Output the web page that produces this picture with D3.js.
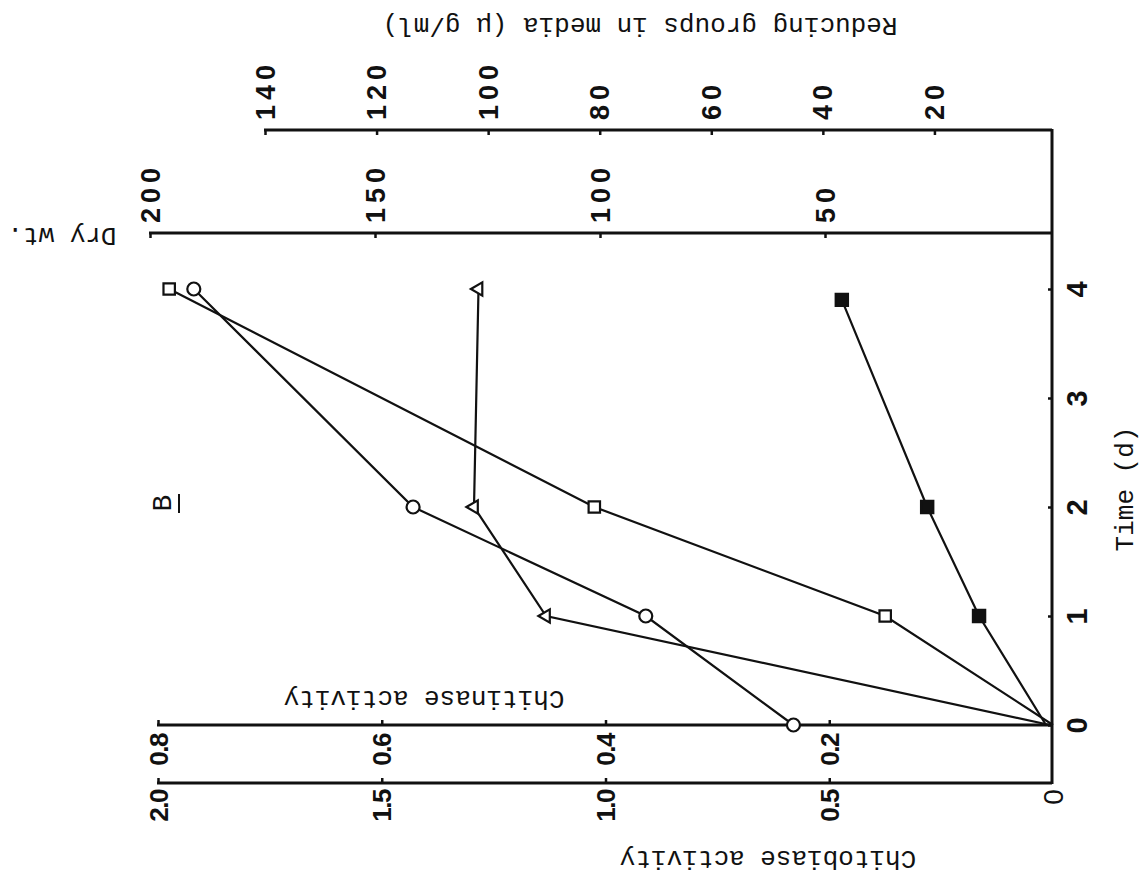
<!DOCTYPE html>
<html>
<head>
<meta charset="utf-8">
<script src="https://cdn.jsdelivr.net/npm/d3@7"></script>
<style>
body { margin: 0; background: #fff; }
svg { display: block; }
.title { font-family: "Liberation Mono", "DejaVu Sans Mono", monospace; font-size: 26px; fill: #111; }
</style>
</head>
<body>
<svg id="svg" width="1140" height="874"></svg>
<script>
"use strict";

// time in days
var days = [0, 1, 2, 3, 4];

// open circles - chitobiase activity
var chitobiaseTime = [0, 1, 2, 4];
var chitobiase = [0.58, 0.91, 1.43, 1.92];

// open squares - chitinase activity
var chitinaseTime = [0, 1, 2, 4];
var chitinase = [0, 0.15, 0.41, 0.79];

// open triangles - dry wt.
var dryTime = [0, 1, 2, 4];
var dryWt = [0, 112, 128, 127];

// filled squares - reducing groups in media
var reducingTime = [0, 1, 2, 3.9];
var reducing = [0, 12, 21.3, 36.6];

var chitobiaseTicks = [0.5, 1.0, 1.5, 2.0];
var chitinaseTicks = [0.2, 0.4, 0.6, 0.8];
var dryTicks = [50, 100, 150, 200];
var reducingTicks = [20, 40, 60, 80, 100, 120, 140];

var svg = d3.select("svg");

// the page is turned on its side: time runs up, values run left
var axisX = 1052;
var chitinaseY = 725;
var chitobiaseY = 783;
var dryY = 233;
var reducingY = 130;

var y = d3.scaleLinear().domain([0, 4]).range([725, 289]);
var xChitobiase = d3.scaleLinear().domain([0, 2]).range([1053, 158]);
var xChitinase = d3.scaleLinear().domain([0, 0.8]).range([1053, 158]);
var xDry = d3.scaleLinear().domain([0, 200]).range([1050, 150]);
var xReducing = d3.scaleLinear().domain([0, 140]).range([1046, 265]);

function hAxis(scale, ticks, yPos, fmt, below)
{
    var axis = (below ? d3.axisBottom(scale) : d3.axisTop(scale))
        .tickValues(ticks)
        .tickSizeInner(-5)
        .tickSizeOuter(0)
        .tickFormat(fmt);

    var g = svg.append("g")
        .attr("transform", "translate(0," + yPos + ")")
        .call(axis);
    g.select(".domain").remove();
    g.selectAll(".tick line")
        .attr("stroke", "#111")
        .attr("stroke-width", 2.5);

    // axis line runs from the last tick to the time axis
    g.append("line")
        .attr("x1", scale(ticks[ticks.length - 1]) - 1)
        .attr("x2", axisX)
        .attr("stroke", "#111")
        .attr("stroke-width", 3);
    return g;
}

function styleLabels(g, shift, anchor, size, spacing)
{
    g.selectAll(".tick text")
        .attr("x", 0).attr("y", 0).attr("dy", null)
        .attr("transform", "translate(0," + shift + ") rotate(-90)")
        .attr("text-anchor", anchor)
        .attr("dominant-baseline", "central")
        .style("font-family", "'Liberation Sans', Arial, sans-serif")
        .style("font-weight", "bold")
        .style("font-size", size + "px")
        .style("letter-spacing", spacing + "px")
        .attr("fill", "#111");
}

var gChitinase = hAxis(xChitinase, chitinaseTicks, chitinaseY, d3.format(".1f"), true);
styleLabels(gChitinase, 9, "end", 26, -1.5);

var gChitobiase = hAxis(xChitobiase, chitobiaseTicks, chitobiaseY, d3.format(".1f"), true);
styleLabels(gChitobiase, 7, "end", 26, -1.5);

var gDry = hAxis(xDry, dryTicks, dryY, d3.format("d"), false);
styleLabels(gDry, -10, "start", 27, 5);

var gReducing = hAxis(xReducing, reducingTicks, reducingY, d3.format("d"), false);
styleLabels(gReducing, -10, "start", 27, 5);

// time axis, vertical on the right
var timeAxis = d3.axisRight(y)
    .tickValues(days)
    .tickSizeInner(-4)
    .tickSizeOuter(0)
    .tickFormat(d3.format("d"));

var gTime = svg.append("g")
    .attr("transform", "translate(" + axisX + ",0)")
    .call(timeAxis);
gTime.select(".domain").remove();
gTime.selectAll(".tick line")
    .attr("stroke", "#111")
    .attr("stroke-width", 2.5);
gTime.selectAll(".tick text")
    .attr("x", 0).attr("dy", null)
    .attr("transform", "translate(25,0) rotate(-90)")
    .attr("text-anchor", "middle")
    .attr("dominant-baseline", "central")
    .style("font-family", "'Liberation Sans', Arial, sans-serif")
    .style("font-weight", "bold")
    .style("font-size", "29px")
    .attr("fill", "#111");
gTime.append("line")
    .attr("y1", reducingY - 1)
    .attr("y2", chitobiaseY + 1)
    .attr("stroke", "#111")
    .attr("stroke-width", 3);

// zero of the chitobiase scale
svg.append("text")
    .attr("transform", "translate(" + xChitobiase(0) + ",797) rotate(-90)")
    .attr("text-anchor", "middle")
    .attr("dominant-baseline", "central")
    .style("font-family", "'Liberation Sans', Arial, sans-serif")
    .style("font-size", "28px")
    .attr("fill", "#111")
    .text("0");

// series
var series = [
    { time: chitobiaseTime, values: chitobiase, x: xChitobiase, mark: "circle" },
    { time: chitinaseTime, values: chitinase, x: xChitinase, mark: "square" },
    { time: dryTime, values: dryWt, x: xDry, mark: "triangle" },
    { time: reducingTime, values: reducing, x: xReducing, mark: "filled" }
];

series.forEach(function(s)
{
    var pts = d3.zip(s.time, s.values);
    var line = d3.line()
        .x(d => s.x(d[1]))
        .y(d => y(d[0]));

    svg.append("path")
        .datum(pts)
        .attr("d", line)
        .attr("fill", "none")
        .attr("stroke", "#111")
        .attr("stroke-width", 2.2);

    s.pts = pts;
});

series.forEach(function(s)
{
    var pts = s.pts.filter(d => d[1] > 0);
    var m = svg.append("g")
        .selectAll(".mark")
        .data(pts)
        .enter();

    if (s.mark === "circle")
    {
        m.append("circle")
            .attr("cx", d => s.x(d[1]))
            .attr("cy", d => y(d[0]))
            .attr("r", 6.5)
            .attr("fill", "#fff")
            .attr("stroke", "#111")
            .attr("stroke-width", 2.2);
    }
    else
    {
        var type = s.mark === "triangle" ? d3.symbolTriangle : d3.symbolSquare;
        var size = s.mark === "triangle" ? 75 : (s.mark === "filled" ? 150 : 130);
        var rot = s.mark === "triangle" ? -90 : 0;
        m.append("path")
            .attr("d", d3.symbol().type(type).size(size))
            .attr("transform", d => "translate(" + s.x(d[1]) + "," + y(d[0]) + ") rotate(" + rot + ")")
            .attr("fill", s.mark === "filled" ? "#111" : "#fff")
            .attr("stroke", "#111")
            .attr("stroke-width", 2.2);
    }
});

// titles, upside down as in the scanned page
function title(txt, x, yy, angle)
{
    svg.append("text")
        .attr("class", "title")
        .attr("transform", "translate(" + x + "," + yy + ") rotate(" + angle + ")")
        .attr("text-anchor", "middle")
        .attr("dominant-baseline", "central")
        .text(txt);
}

title("Chitinase activity", 424, 698, 180);
title("Chitobiase activity", 768, 858, 180);
title("Reducing groups in media (\u03bc g/ml)", 640, 25, 180);
title("Dry wt.", 62, 235, 180);
title("Time (d)", 1126, 489, -90);

// panel letter
svg.append("text")
    .attr("class", "title")
    .attr("transform", "translate(163,503) rotate(-90)")
    .attr("text-anchor", "middle")
    .attr("dominant-baseline", "central")
    .style("font-size", "28px")
    .text("B");
svg.append("line")
    .attr("x1", 179).attr("x2", 179)
    .attr("y1", 494).attr("y2", 513)
    .attr("stroke", "#111")
    .attr("stroke-width", 2);
</script>
</body>
</html>
